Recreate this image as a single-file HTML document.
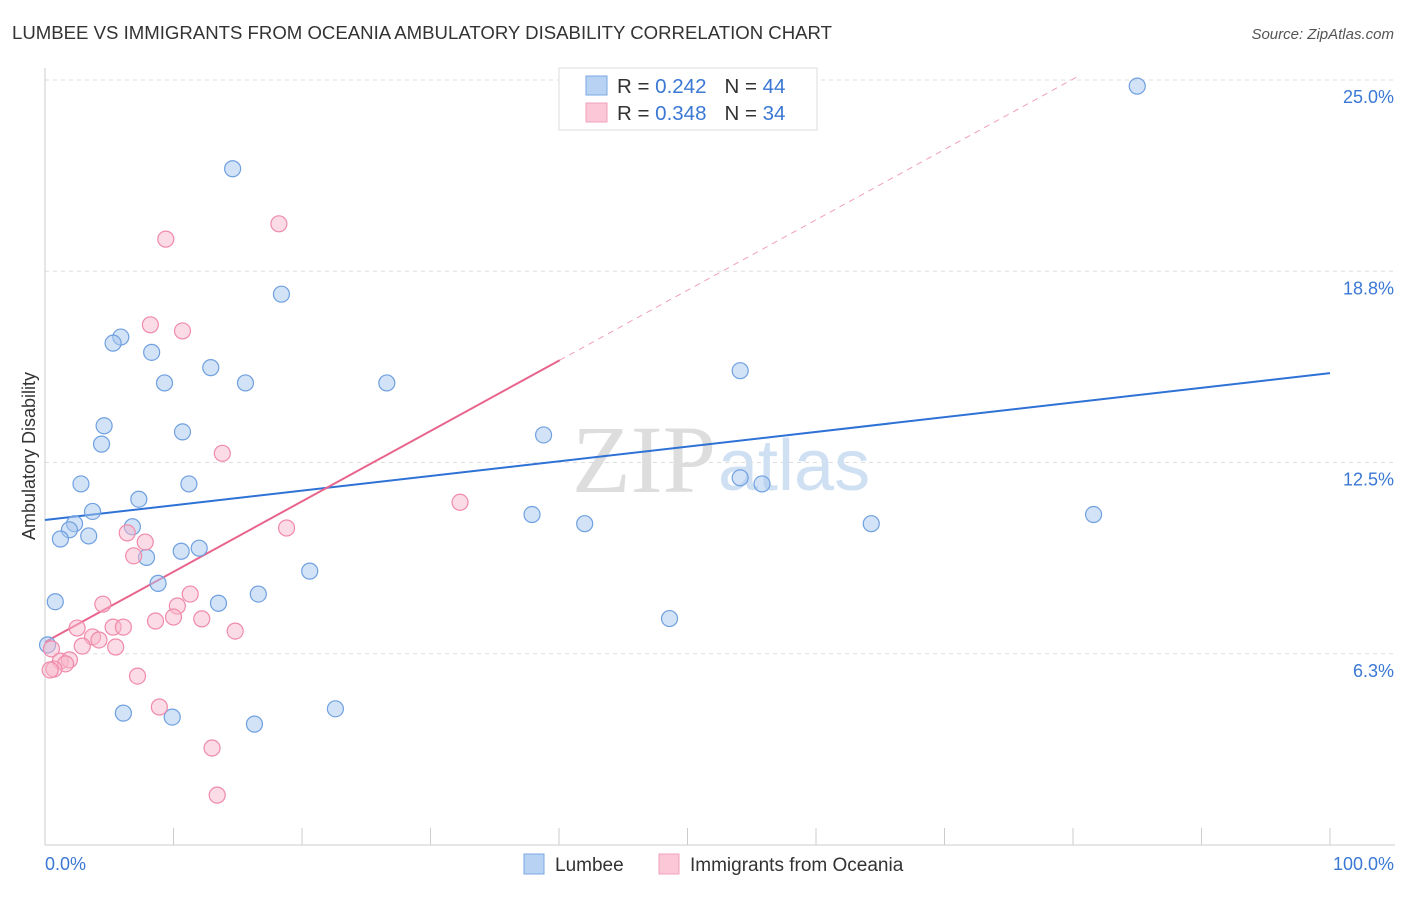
<!DOCTYPE html>
<html><head><meta charset="utf-8"><style>
body{margin:0;background:#fff;font-family:"Liberation Sans",sans-serif;}
svg text{font-family:"Liberation Sans",sans-serif;}
</style></head><body>
<svg id="chart" width="1406" height="892" viewBox="0 0 1406 892">
<text x="12" y="39" font-size="18.6" fill="#333">LUMBEE VS IMMIGRANTS FROM OCEANIA AMBULATORY DISABILITY CORRELATION CHART</text>
<text x="1394" y="39" font-size="15" fill="#555" font-style="italic" text-anchor="end">Source: ZipAtlas.com</text>
<text x="35" y="456" font-size="18" fill="#333" text-anchor="middle" transform="rotate(-90 35 456)">Ambulatory Disability</text>
<g id="grid"></g>
<text x="716" y="492" font-size="96" fill="#ddd" text-anchor="end" style="font-family:'Liberation Serif',serif">ZIP</text>
<text x="718" y="490" font-size="72" fill="#cfe0f3">atlas</text>
<g id="lines"></g>
<g id="points"></g>
<g>
<rect x="559" y="68" width="258" height="62" fill="#fff" stroke="#ddd"/>
<rect x="586" y="76" width="21" height="19" fill="#b8d2f4" stroke="#7aa8e4"/>
<rect x="586" y="103" width="21" height="19" fill="#fcc8d8" stroke="#f0a0bc"/>
<text x="617" y="93" font-size="20.5" fill="#333">R = <tspan fill="#3a78d4">0.242</tspan><tspan dx="18">N = </tspan><tspan fill="#3a78d4">44</tspan></text>
<text x="617" y="120" font-size="20.5" fill="#333">R = <tspan fill="#3a78d4">0.348</tspan><tspan dx="18">N = </tspan><tspan fill="#3a78d4">34</tspan></text>
</g>
<g>
<rect x="524" y="854" width="20" height="20" fill="#b8d2f4" stroke="#7aa8e4"/>
<text x="555" y="871" font-size="19" fill="#333">Lumbee</text>
<rect x="659" y="854" width="20" height="20" fill="#fcc8d8" stroke="#f0a0bc"/>
<text x="690" y="871" font-size="19" fill="#333">Immigrants from Oceania</text>
</g>
</svg>
<script>
const yTicks=[6.25,12.5,18.75,25];
const yTickLabels=["6.3%","12.5%","18.8%","25.0%"];
const xTickCount=10;
const xLabels=["0.0%","100.0%"];
const lumbeeX=[85.0,14.6,18.4,5.9,5.3,8.3,12.9,9.3,15.6,26.6,54.1,4.6,4.4,10.7,38.8,2.8,11.2,7.3,3.7,2.3,1.9,1.2,3.4,6.8,37.9,42.0,54.1,55.8,64.3,81.6,10.6,12.0,7.9,20.6,8.8,16.6,0.8,13.5,48.6,0.2,6.1,9.9,16.3,22.6];
const lumbeeY=[24.8,22.1,18.0,16.6,16.4,16.1,15.6,15.1,15.1,15.1,15.5,13.7,13.1,13.5,13.4,11.8,11.8,11.3,10.9,10.5,10.3,10.0,10.1,10.4,10.8,10.5,12.0,11.8,10.5,10.8,9.6,9.7,9.4,8.95,8.55,8.2,7.95,7.9,7.4,6.54,4.31,4.18,3.95,4.45];
const oceX=[18.2,9.4,8.2,10.7,13.8,32.3,18.8,6.4,7.8,6.9,11.3,4.5,10.3,8.6,12.2,10.0,5.3,6.1,2.5,14.8,3.7,4.2,2.9,5.5,0.5,1.2,1.9,1.6,0.7,0.4,7.2,8.9,13.0,13.4];
const oceY=[20.3,19.8,17.0,16.8,12.8,11.2,10.36,10.2,9.9,9.45,8.2,7.87,7.81,7.32,7.39,7.45,7.12,7.12,7.09,6.99,6.8,6.7,6.5,6.47,6.41,6.01,6.05,5.92,5.75,5.72,5.52,4.51,3.17,1.63];
const lumbeeTrend=[10.62,15.42];
const oceTrend=[6.63,0.230];

const NS="http://www.w3.org/2000/svg";
const X0=45,X1=1330,YB=845,PXY=30.6;
const sx=v=>X0+(X1-X0)*v/100;
const sy=v=>YB-v*PXY;
function mk(tag,attrs,parent){const e=document.createElementNS(NS,tag);for(const k in attrs)e.setAttribute(k,attrs[k]);parent.appendChild(e);return e;}
const grid=document.getElementById('grid');
yTicks.forEach((t,i)=>{
  const l=mk('line',{x1:X0,x2:1395,y1:sy(t),y2:sy(t),stroke:'#ddd','stroke-dasharray':'4,4'},grid);
  
  
  const tx=mk('text',{x:1394,y:sy(t)+23,'font-size':18,fill:'#3a78d4','text-anchor':'end'},grid);
  tx.textContent=yTickLabels[i];
  
  
});
const topLine=mk('line',{x1:X0,x2:1395,y1:80,y2:80,stroke:'#ddd','stroke-dasharray':'4,4'},grid);


const axX=mk('line',{x1:X0,x2:1395,y1:YB,y2:YB,stroke:'#ccc'},grid);


const axY=mk('line',{x1:X0,x2:X0,y1:68,y2:YB,stroke:'#ccc'},grid);


for(let i=0;i<=xTickCount;i++){
  const x=sx(100*i/xTickCount);
  const t=mk('line',{x1:x,x2:x,y1:828,y2:YB,stroke:'#ccc'},grid);
  
  
}
const xl0=mk('text',{x:45,y:870,'font-size':18,fill:'#3a78d4'},grid);xl0.textContent=xLabels[0];


const xl1=mk('text',{x:1394,y:870,'font-size':18,fill:'#3a78d4','text-anchor':'end'},grid);xl1.textContent=xLabels[1];



const lines=document.getElementById('lines');
const bl=mk('line',{x1:sx(0),y1:sy(lumbeeTrend[0]),x2:sx(100),y2:sy(lumbeeTrend[1]),stroke:'#2f72d6','stroke-width':2},lines);


const xe=Math.max(...oceX)*1.24;
const pl=mk('line',{x1:sx(0),y1:sy(oceTrend[0]),x2:sx(xe),y2:sy(oceTrend[0]+oceTrend[1]*xe),stroke:'#e8648c','stroke-width':2},lines);


const xd=(25.1-oceTrend[0])/oceTrend[1];
const pd=mk('line',{x1:sx(xe),y1:sy(oceTrend[0]+oceTrend[1]*xe),x2:sx(xd),y2:sy(25.1),stroke:'#f0a0b8','stroke-width':1,'stroke-dasharray':'6,5'},lines);



const pts=document.getElementById('points');
lumbeeX.forEach((x,i)=>{
  const c=mk('circle',{cx:sx(x),cy:sy(lumbeeY[i]),r:8,fill:'rgba(168,200,240,0.5)',stroke:'#6fa0e0','stroke-width':1.2},pts);
  
  
});
oceX.forEach((x,i)=>{
  const c=mk('circle',{cx:sx(x),cy:sy(oceY[i]),r:8,fill:'rgba(248,184,204,0.5)',stroke:'#f08aaa','stroke-width':1.2},pts);
  
  
});
</script>
</body></html>
